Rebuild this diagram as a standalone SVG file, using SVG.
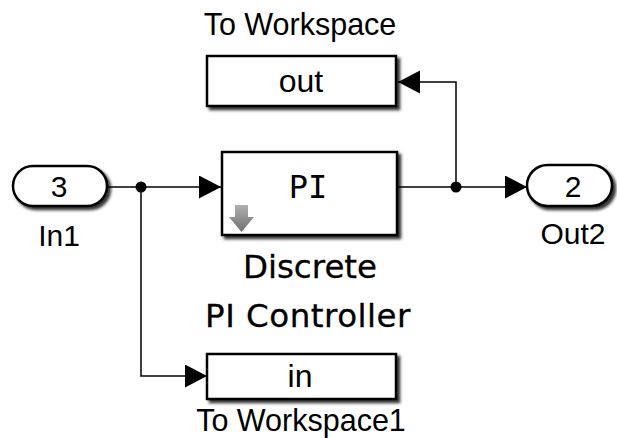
<svg xmlns="http://www.w3.org/2000/svg" width="617" height="438" viewBox="0 0 617 438">
<style>
.blk{fill:#fff;stroke:#000;stroke-width:2.5}
.lbl{font-family:"Liberation Sans",Arial,sans-serif;font-size:30.5px;fill:#000;text-anchor:middle}
.in{font-family:"Liberation Sans",Arial,sans-serif;font-size:30px;fill:#000;text-anchor:middle}
.bt{font-family:"Liberation Sans",Arial,sans-serif;font-size:32px;fill:#000;text-anchor:middle}
.ctl{font-family:"DejaVu Sans",Verdana,sans-serif;font-size:32.5px;fill:#000;text-anchor:middle;stroke:#000;stroke-width:0.3}
.mono{font-family:"DejaVu Sans Mono","Liberation Mono",monospace;font-size:32px;fill:#000;text-anchor:middle}
.wire{fill:none;stroke:#000;stroke-width:1.5}
</style>
<defs>
<filter id="sh" x="-10%" y="-20%" width="130%" height="150%">
<feGaussianBlur in="SourceAlpha" stdDeviation="1.5" result="b"/>
<feOffset in="b" dx="3" dy="3" result="o"/>
<feComponentTransfer in="o" result="s"><feFuncA type="linear" slope="0.8"/></feComponentTransfer>
<feMerge><feMergeNode in="s"/><feMergeNode in="SourceGraphic"/></feMerge>
</filter>
<marker id="arr" markerUnits="userSpaceOnUse" markerWidth="24" markerHeight="24" refX="22" refY="11.5" orient="auto">
<path d="M0,0 L22,11.5 L0,23 Z" fill="#000"/>
</marker>
<linearGradient id="g" x1="0" y1="0" x2="0" y2="1">
<stop offset="0" stop-color="#b0b0b0"/>
<stop offset="1" stop-color="#707070"/>
</linearGradient>
</defs>

<g id="In1">
<rect class="blk" x="13" y="166" width="94" height="40" rx="20" filter="url(#sh)"/>
<text class="in" x="59" y="197">3</text>
<text class="in" x="59" y="246">In1</text>
</g>

<g id="PIController">
<rect class="blk" x="222" y="152" width="175" height="83" filter="url(#sh)"/>
<text class="mono" x="308" y="198">PI</text>
<path d="M235,205 H248 V217 H254 L241.5,232 L229,217 H235 Z" fill="url(#g)"/>
<text class="ctl" x="310" y="278">Discrete</text>
<text class="ctl" x="308" y="327" letter-spacing="0.5">PI Controller</text>
</g>

<g id="ToWorkspace">
<text class="lbl" x="300" y="35">To Workspace</text>
<rect class="blk" x="207" y="56" width="189" height="50" filter="url(#sh)"/>
<text class="bt" x="301" y="92">out</text>
</g>

<g id="ToWorkspace1">
<rect class="blk" x="207" y="354" width="189" height="45" filter="url(#sh)"/>
<text class="bt" x="300" y="387">in</text>
<text class="lbl" x="301" y="431">To Workspace1</text>
</g>

<g id="Out2">
<rect class="blk" x="527" y="165" width="85" height="41" rx="20.5" filter="url(#sh)"/>
<text class="in" x="573" y="197">2</text>
<text class="in" x="573" y="244">Out2</text>
</g>

<g id="connectors">
<path class="wire" d="M108,187 H221" marker-end="url(#arr)"/>
<path class="wire" d="M141,187 V376 H207" marker-end="url(#arr)"/>
<path class="wire" d="M398,187 H527" marker-end="url(#arr)"/>
<path class="wire" d="M456,187 V82 H398" marker-end="url(#arr)"/>
<circle cx="141" cy="187" r="5.5" fill="#000"/>
<circle cx="456" cy="187" r="5.5" fill="#000"/>
</g>
</svg>
